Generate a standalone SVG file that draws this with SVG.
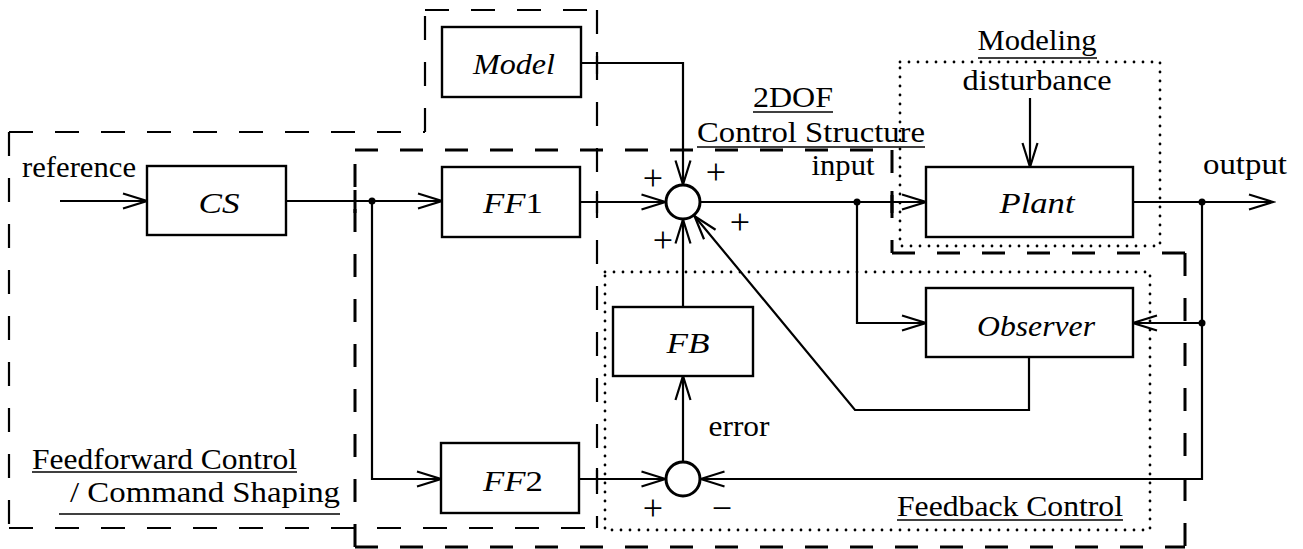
<svg xmlns="http://www.w3.org/2000/svg" width="1303" height="549" viewBox="0 0 1303 549">
<style>
text{font-family:"Liberation Serif","DejaVu Serif",serif;font-size:30px;fill:#000}
.it{font-style:italic}
.up{font-style:normal}
.pm{font-size:36px}
.blk{fill:#fff;stroke:#000;stroke-width:2.4}
.sig{fill:none;stroke:#000;stroke-width:2.2}
.arr{marker-end:url(#ah)}
.d1{stroke:#000;stroke-width:2.2;stroke-dasharray:24 22;fill:none}
.d2{stroke:#000;stroke-width:3;stroke-dasharray:23 22;fill:none}
.tk1{stroke:#000;stroke-width:2.2}
.tk2{stroke:#000;stroke-width:3}
.dot{fill:none;stroke:#000;stroke-width:2.8;stroke-dasharray:0 9;stroke-linecap:round}
.ul{stroke:#000;stroke-width:1.6}
.sum{fill:#fff;stroke:#000;stroke-width:3}
</style>
<defs>
<marker id="ah" markerUnits="userSpaceOnUse" markerWidth="30" markerHeight="20" viewBox="-27 -10 30 20" refX="0" refY="0" orient="auto">
<path d="M-24,-7.5 L0,0 L-24,7.5" fill="none" stroke="#000" stroke-width="2.2"/>
</marker>
</defs>

<g id="regions">
<g id="feedforward-region">
<line class="d1" x1="9" y1="132" x2="9" y2="528"/>
<line class="d1" x1="9" y1="132" x2="425" y2="132"/>
<line class="d1" x1="425" y1="132" x2="425" y2="10"/>
<line class="d1" x1="425" y1="10" x2="597" y2="10"/>
<line class="d1" x1="597" y1="10" x2="597" y2="528"/>
<line class="d1" x1="9" y1="528" x2="597" y2="528"/>
<line class="tk1" x1="597" y1="52" x2="597" y2="74"/>
<line class="tk1" x1="597" y1="191" x2="597" y2="213"/>
<line class="tk1" x1="597" y1="468" x2="597" y2="490"/>
<text x="32" y="469" textLength="265" lengthAdjust="spacingAndGlyphs">Feedforward Control</text>
<line class="ul" x1="32" y1="472" x2="297" y2="472"/>
<text x="70" y="502" textLength="270" lengthAdjust="spacingAndGlyphs">/ Command Shaping</text>
<line class="ul" x1="59" y1="514" x2="340" y2="514"/>
</g>
<g id="twodof-region">
<line class="d2" x1="355" y1="150" x2="892" y2="150"/>
<line class="d2" x1="892" y1="150" x2="892" y2="253"/>
<line class="d2" x1="892" y1="253" x2="1185" y2="253"/>
<line class="d2" x1="1185" y1="253" x2="1185" y2="547"/>
<line class="d2" x1="355" y1="547" x2="1185" y2="547"/>
<line class="d2" x1="355" y1="547" x2="355" y2="150"/>
<line class="tk2" x1="355" y1="190" x2="355" y2="213"/>
<line class="tk2" x1="892" y1="191" x2="892" y2="213"/>
<text x="793" y="107" text-anchor="middle" textLength="80" lengthAdjust="spacingAndGlyphs">2DOF</text>
<line class="ul" x1="753" y1="112" x2="833" y2="112"/>
<text x="697" y="142" textLength="228" lengthAdjust="spacingAndGlyphs">Control Structure</text>
<line class="ul" x1="697" y1="147" x2="925" y2="147"/>
</g>
<g id="modeling-region">
<rect class="dot" x="900" y="62" width="260" height="184"/>
<text x="1037" y="50" text-anchor="middle" textLength="119" lengthAdjust="spacingAndGlyphs">Modeling</text>
<line class="ul" x1="978" y1="58" x2="1097" y2="58"/>
</g>
<g id="feedback-region">
<rect class="dot" x="605" y="272" width="545" height="258"/>
<text x="897" y="516" textLength="226" lengthAdjust="spacingAndGlyphs">Feedback Control</text>
<line class="ul" x1="897" y1="520" x2="1123" y2="520"/>
</g>
</g>

<g id="connectors">
<line class="sig arr" x1="60" y1="201" x2="147" y2="201"/>
<line class="sig arr" x1="286" y1="201" x2="442" y2="201"/>
<polyline class="sig arr" points="372,201 372,479 441,479"/>
<polyline class="sig arr" points="581,63 683,63 683,184.5"/>
<line class="sig arr" x1="580" y1="202" x2="665.5" y2="202"/>
<line class="sig arr" x1="700" y1="202" x2="926" y2="202"/>
<polyline class="sig arr" points="857,202 857,323 926,323"/>
<line class="sig arr" x1="1133" y1="202" x2="1273" y2="202"/>
<polyline class="sig arr" points="1202,202 1202,479 700.5,479"/>
<line class="sig arr" x1="1202" y1="323" x2="1133" y2="323"/>
<polyline class="sig arr" points="1029,357 1029,410 855,410 694.5,216"/>
<line class="sig arr" x1="683" y1="307" x2="683" y2="219.5"/>
<line class="sig arr" x1="683" y1="462" x2="683" y2="376"/>
<line class="sig arr" x1="579" y1="479" x2="665.5" y2="479"/>
<line class="sig arr" x1="1030" y1="98" x2="1030" y2="167"/>
<circle cx="372" cy="201" r="3.5"/>
<circle cx="857" cy="202" r="3.5"/>
<circle cx="1202" cy="202" r="3.5"/>
<circle cx="1202" cy="323" r="3.5"/>
</g>

<g id="labels">
<text x="22" y="177" textLength="114" lengthAdjust="spacingAndGlyphs">reference</text>
<text x="1037" y="90" text-anchor="middle" textLength="149" lengthAdjust="spacingAndGlyphs">disturbance</text>
<text x="1245" y="174" text-anchor="middle" textLength="84" lengthAdjust="spacingAndGlyphs">output</text>
<text x="843" y="175" text-anchor="middle" textLength="63" lengthAdjust="spacingAndGlyphs">input</text>
<text x="739" y="436" text-anchor="middle" textLength="61" lengthAdjust="spacingAndGlyphs">error</text>
<text class="pm" x="653" y="190" text-anchor="middle">+</text>
<text class="pm" x="716" y="184" text-anchor="middle">+</text>
<text class="pm" x="740" y="234" text-anchor="middle">+</text>
<text class="pm" x="663" y="252" text-anchor="middle">+</text>
<text class="pm" x="653" y="520" text-anchor="middle">+</text>
<text class="pm" x="722" y="520" text-anchor="middle">−</text>
</g>

<g id="node-CS">
<rect class="blk" x="147" y="166" width="139" height="69"/>
<text class="it" x="219" y="213" text-anchor="middle" textLength="41" lengthAdjust="spacingAndGlyphs">CS</text>
</g>
<g id="node-Model">
<rect class="blk" x="442" y="27" width="139" height="70"/>
<text class="it" x="514" y="74" text-anchor="middle" textLength="82" lengthAdjust="spacingAndGlyphs">Model</text>
</g>
<g id="node-FF1">
<rect class="blk" x="442" y="167" width="138" height="70"/>
<text class="it" x="513" y="213" text-anchor="middle" textLength="60" lengthAdjust="spacingAndGlyphs">FF<tspan class="up">1</tspan></text>
</g>
<g id="node-FF2">
<rect class="blk" x="441" y="443" width="138" height="70"/>
<text class="it" x="513" y="491" text-anchor="middle" textLength="60" lengthAdjust="spacingAndGlyphs">FF<tspan class="up">2</tspan></text>
</g>
<g id="node-sum1">
<circle class="sum" cx="683" cy="202" r="17"/>
</g>
<g id="node-sum2">
<circle class="sum" cx="683" cy="479" r="17"/>
</g>
<g id="node-FB">
<rect class="blk" x="613" y="307" width="140" height="69"/>
<text class="it" x="688" y="353" text-anchor="middle" textLength="43" lengthAdjust="spacingAndGlyphs">FB</text>
</g>
<g id="node-Plant">
<rect class="blk" x="926" y="167" width="207" height="70"/>
<text class="it" x="1037" y="213" text-anchor="middle" textLength="75" lengthAdjust="spacingAndGlyphs">Plant</text>
</g>
<g id="node-Observer">
<rect class="blk" x="926" y="288" width="207" height="69"/>
<text class="it" x="1036" y="336" text-anchor="middle" textLength="118" lengthAdjust="spacingAndGlyphs">Observer</text>
</g>
</svg>
